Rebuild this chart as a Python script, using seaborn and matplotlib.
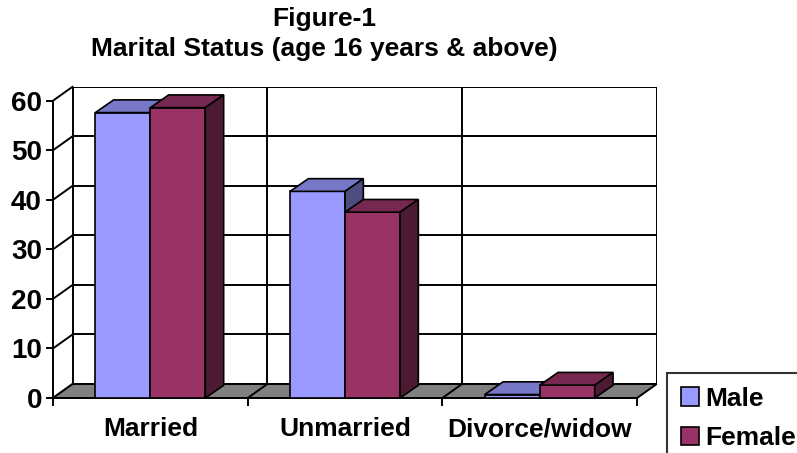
import matplotlib
matplotlib.use("Agg")
import matplotlib.pyplot as plt
import seaborn as sns
import pandas as pd
from matplotlib.patches import Polygon, Rectangle

categories = ["Married", "Unmarried", "Divorce/widow"]
male = [57.6, 41.7, 0.7]
female = [58.6, 37.5, 2.6]
series = ["Male", "Female"]
colors = {"Male": "#9999FF", "Female": "#993366"}
yticks = [0, 10, 20, 30, 40, 50, 60]
title = "Figure-1\nMarital Status (age 16 years & above)"

df = pd.DataFrame({
    "status": categories * 2,
    "value": male + female,
    "sex": ["Male"] * 3 + ["Female"] * 3,
})

sns.set_theme(style="white", rc={"text.color": "black", "xtick.color": "black",
                                 "ytick.color": "black", "axes.labelcolor": "black"})
plt.rcParams["font.family"] = ["Liberation Sans", "DejaVu Sans"]
plt.rcParams["font.weight"] = "bold"

fig = plt.figure(figsize=(7.97, 4.53), dpi=100)
ax = fig.add_axes([53 / 797, 1 - 398 / 453, 603.5 / 797, (398 - 86.7) / 453])

px_x = 194.7
px_y = 297.3 / 60
wdx, wdy = 19.6 / px_x, 14.0 / px_y
bdx, bdy = 18.3 / px_x, 12.7 / px_y

sns.barplot(data=df, x="status", y="value", hue="sex", palette=colors,
            width=0.565, edgecolor="black", linewidth=1.2, saturation=1,
            ax=ax, zorder=3)

ax.set_xlim(-0.5, -0.5 + 603.5 / px_x)
ax.set_ylim(0, 60 + wdy)

lw = 1.4
# back wall
ax.add_patch(Rectangle((-0.5 + wdx, wdy), 3, 60, facecolor="white",
                       edgecolor="black", lw=lw, zorder=0.5))
for y in yticks[1:-1]:
    ax.plot([-0.5 + wdx, 2.5 + wdx], [y + wdy, y + wdy], color="black", lw=lw, zorder=0.6)
for b in [0.5, 1.5]:
    ax.plot([b + wdx, b + wdx], [wdy, 60 + wdy], color="black", lw=lw, zorder=0.6)
# left side wall diagonals
for y in yticks:
    ax.plot([-0.5, -0.5 + wdx], [y, y + wdy], color="black", lw=lw, zorder=0.6,
            clip_on=False)
# floor
ax.add_patch(Polygon([(-0.5, 0), (2.5, 0), (2.5 + wdx, wdy), (-0.5 + wdx, wdy)],
                     closed=True, facecolor="#808080", edgecolor="black", lw=lw,
                     zorder=1, clip_on=False))
for b in [0.5, 1.5]:
    ax.plot([b, b + wdx], [0, wdy], color="black", lw=lw, zorder=1.1)


def shade(hexcol, f):
    r, g, b = matplotlib.colors.to_rgb(hexcol)
    return (r * f, g * f, b * f)


# 3D tops and sides derived from seaborn bars
for hi, name in enumerate(series):
    cont = ax.containers[hi]
    for bar in cont:
        x0 = bar.get_x()
        w = bar.get_width()
        h = bar.get_height()
        z = 3 + hi
        bar.set_zorder(z)
        top = Polygon([(x0, h), (x0 + w, h), (x0 + w + bdx, h + bdy), (x0 + bdx, h + bdy)],
                      closed=True, facecolor=shade(colors[name], 0.78),
                      edgecolor="black", lw=1.2, zorder=z + 0.1)
        side = Polygon([(x0 + w, 0), (x0 + w + bdx, bdy), (x0 + w + bdx, h + bdy), (x0 + w, h)],
                       closed=True, facecolor=shade(colors[name], 0.5),
                       edgecolor="black", lw=1.2, zorder=z + 0.1)
        ax.add_patch(top)
        ax.add_patch(side)

for s in ["top", "right"]:
    ax.spines[s].set_visible(False)
ax.spines["left"].set_bounds(0, 60)
ax.spines["bottom"].set_bounds(-0.5, 2.5)
for s in ["left", "bottom"]:
    ax.spines[s].set_color("black")
    ax.spines[s].set_linewidth(lw)
    ax.spines[s].set_zorder(2)

ax.set_yticks(yticks)
ax.set_yticklabels([str(v) for v in yticks], fontsize=20, fontweight="bold")
ax.tick_params(axis="y", left=True, length=5, width=lw, pad=3, color="black")
ax.set_xticks([-0.5, 0.5, 1.5, 2.5])
ax.set_xticklabels([])
ax.tick_params(axis="x", bottom=True, length=6, width=lw, color="black")
ax.set_xticks([0, 1, 2], minor=True)
ax.set_xticklabels(categories, minor=True, fontsize=19, fontweight="bold")
ax.tick_params(axis="x", which="minor", length=0, pad=14)
ax.set_xlabel("")
ax.set_ylabel("")
ax.grid(False)

handles, labels = ax.get_legend_handles_labels()
if ax.get_legend() is not None:
    ax.get_legend().remove()
leg = fig.legend(handles, labels, loc="upper left",
                 bbox_to_anchor=(667 / 797, 1 - 373 / 453),
                 bbox_transform=fig.transFigure, frameon=True, fancybox=False,
                 edgecolor="black", fontsize=19, handlelength=0.68,
                 handleheight=0.68, handletextpad=0.25, labelspacing=0.58,
                 borderpad=0.52, borderaxespad=0)
leg.get_frame().set_linewidth(1.5)
for t in leg.get_texts():
    t.set_fontweight("bold")

fig.text(324 / 797, 1 - 34 / 453, title, ha="center", va="center",
         fontsize=19, fontweight="bold", linespacing=1.32)

fig.savefig("out.png", dpi=100)
